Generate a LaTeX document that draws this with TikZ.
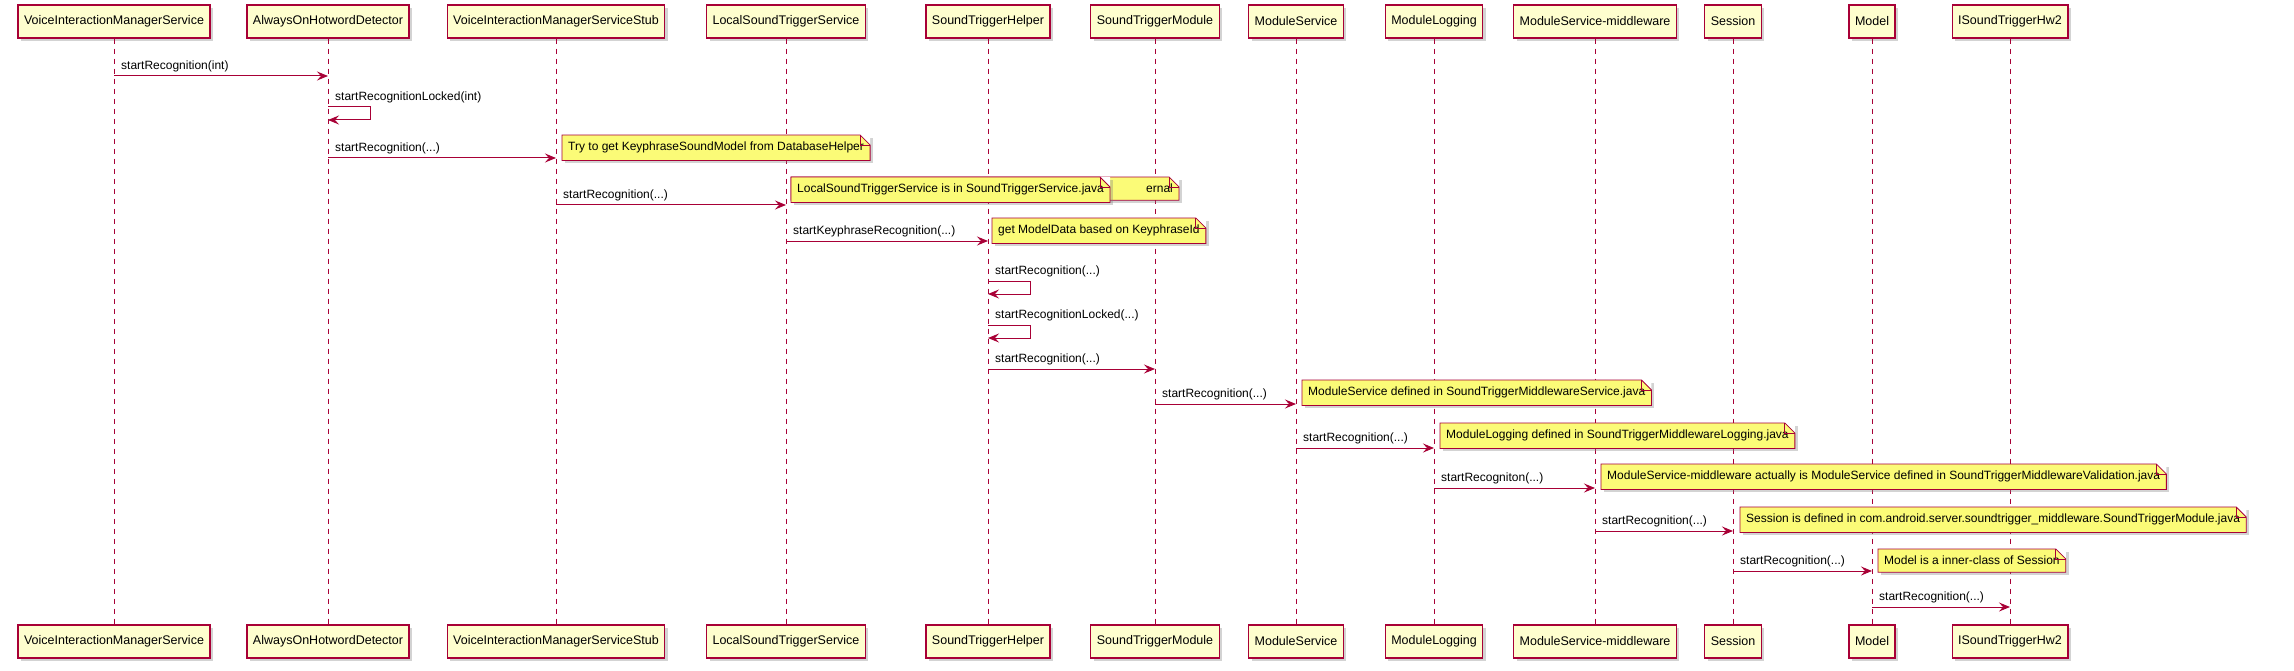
\documentclass[tikz,border=0pt]{standalone}
\usepackage{fontspec}
\setmainfont{Liberation Sans}
\usetikzlibrary{arrows.meta,shadows}
\definecolor{umlred}{HTML}{A80036}
\definecolor{boxfill}{HTML}{FEFECE}
\definecolor{notefill}{HTML}{FBFB77}
\newcommand{\etc}{(...)}
\tikzset{
part/.style={draw=umlred, fill=boxfill, line width=1.2pt, inner xsep=6pt,
  minimum height=33pt, font=\fontsize{12.5}{14}\selectfont,
  drop shadow={shadow xshift=3pt, shadow yshift=-3pt, opacity=.35}},
life/.style={umlred, dashed, dash pattern=on 5pt off 5pt, line width=.8pt},
msg/.style={umlred, line width=1pt, -{Stealth[length=11pt,width=9pt,inset=4pt]}},
lbl/.style={anchor=south west, inner sep=2pt, font=\fontsize{12}{14}\selectfont},
note/.style={fill=notefill, anchor=north west, inner xsep=6pt, inner ysep=7pt,
  font=\fontsize{12}{14}\selectfont,
  drop shadow={shadow xshift=3pt, shadow yshift=-3pt, opacity=.35}}
}
\newcommand{\notebox}[4]{%
\node[note] (#1) at (#2,#3) {#4};
\fill[white] ([xshift=-10pt]#1.north east) -- (#1.north east) -- ([yshift=-10pt]#1.north east) -- cycle;
\draw[umlred, line width=.8pt] (#1.north west) -- ([xshift=-10pt]#1.north east)
  -- ([yshift=-10pt]#1.north east) -- (#1.south east) -- (#1.south west) -- cycle;
\draw[umlred, line width=.8pt] ([xshift=-10pt]#1.north east) |- ([yshift=-10pt]#1.north east);
}
\begin{document}
\begin{tikzpicture}[x=1pt,y=-1pt]
\useasboundingbox (0,0) rectangle (2294,671);
%% Participants
\foreach \n/\x/\t in {vims/114/VoiceInteractionManagerService,aohd/328/AlwaysOnHotwordDetector,
  stub/556/VoiceInteractionManagerServiceStub,lsts/786/LocalSoundTriggerService,
  sth/988/SoundTriggerHelper,stm/1155/SoundTriggerModule,ms/1296/ModuleService,
  ml/1434/ModuleLogging,msm/1595/ModuleService-middleware,ses/1733/Session,
  mdl/1872/Model,hw/2010/ISoundTriggerHw2}{
  \node[part] (\n-t) at (\x,21.5) {\t};
  \node[part] (\n-b) at (\x,641.5) {\t};
  \draw[life] (\n-t) -- (\n-b);
}
%% Messages
\foreach \a/\b/\y/\t [count=\i] in {vims/aohd/76/startRecognition(int),
  aohd/stub/158/startRecognition\etc,stub/lsts/205/startRecognition\etc,
  lsts/sth/241/startKeyphraseRecognition\etc,sth/stm/369/startRecognition\etc,
  stm/ms/404/startRecognition\etc,ms/ml/448/startRecognition\etc,
  ml/msm/488/startRecogniton\etc,msm/ses/531/startRecognition\etc,
  ses/mdl/571/startRecognition\etc,mdl/hw/607/startRecognition\etc}{
  \coordinate (m\i s) at (\a-t |- 0,\y);
  \coordinate (m\i e) at (\b-t |- 0,\y);
  \draw[msg] (m\i s) -- (m\i e);
  \node[lbl] at ([xshift=5pt,yshift=2pt]m\i s) {\t};
}
%% Self messages
\foreach \a/\y/\t [count=\i] in {aohd/107/startRecognitionLocked(int),
  sth/281/startRecognition\etc,sth/325/startRecognitionLocked\etc}{
  \coordinate (s\i s) at (\a-t |- 0,\y);
  \coordinate (s\i e) at (\a-t |- 0,\y+13);
  \draw[msg] (s\i s) -- ++(42,0) |- (s\i e);
  \node[lbl] at ([xshift=5pt,yshift=2pt]s\i s) {\t};
}
%% Notes
\notebox{n1}{562}{135}{Try to get KeyphraseSoundModel from DatabaseHelper}
\notebox{n2b}{791}{177}{\hspace*{349pt}ernal}
\notebox{n2}{791}{177}{LocalSoundTriggerService is in SoundTriggerService.java}
\notebox{n3}{992}{218}{get ModelData based on KeyphraseId}
\notebox{n4}{1302}{380}{ModuleService defined in SoundTriggerMiddlewareService.java}
\notebox{n5}{1440}{423}{ModuleLogging defined in SoundTriggerMiddlewareLogging.java}
\notebox{n6}{1601}{464}{ModuleService-middleware actually is ModuleService defined in SoundTriggerMiddlewareValidation.java}
\notebox{n7}{1740}{507}{Session is defined in com.android.server.soundtrigger\_middleware.SoundTriggerModule.java}
\notebox{n8}{1878}{549}{Model is a inner-class of Session}
\end{tikzpicture}
\end{document}
